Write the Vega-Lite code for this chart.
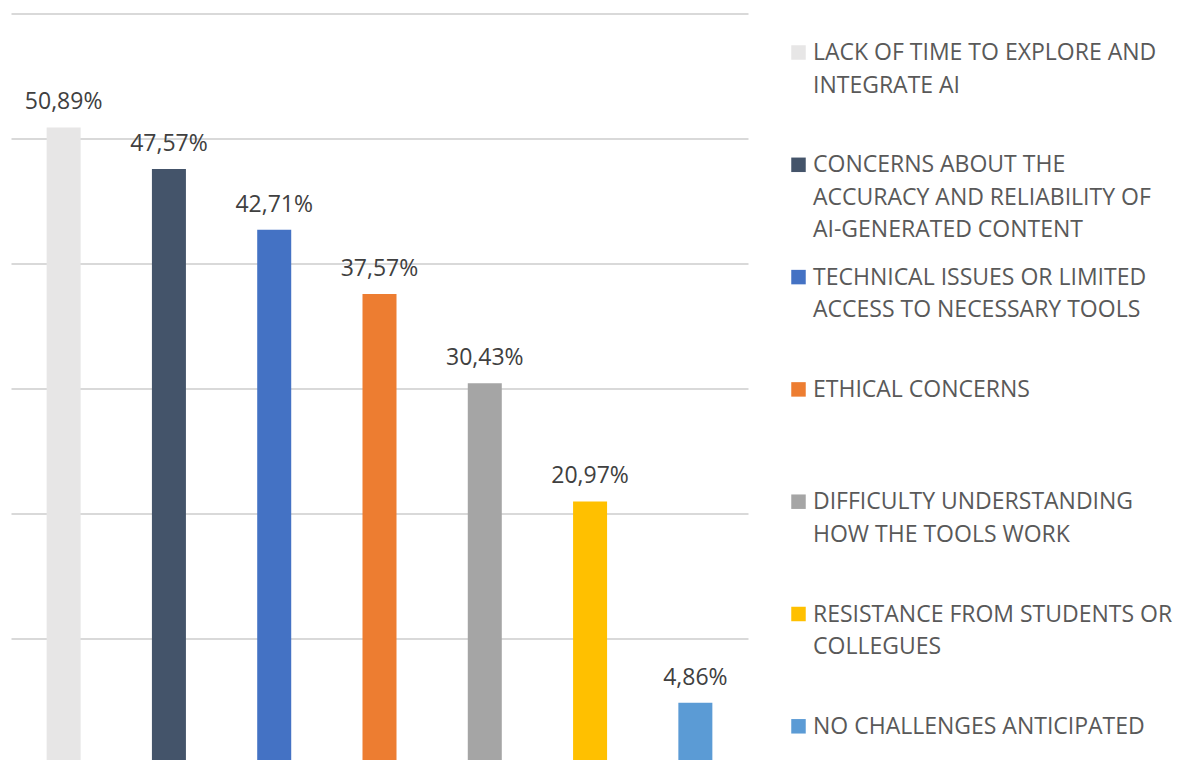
{
  "$schema": "https://vega.github.io/schema/vega-lite/v6.json",
  "width": 737,
  "height": 750,
  "autosize": {"type": "none"},
  "padding": {"left": 11, "top": 13.5, "right": 431, "bottom": 0},
  "background": "#ffffff",
  "config": {
    "view": {"stroke": null},
    "font": "Open Sans",
    "locale": {"number": {"decimal": ",", "thousands": ".", "grouping": [3], "currency": ["", " €"]}}
  },
  "data": {
    "values": [
      {"challenge": "LACK OF TIME TO EXPLORE AND|INTEGRATE AI", "share": 0.5089},
      {"challenge": "CONCERNS ABOUT THE|ACCURACY AND RELIABILITY OF|AI-GENERATED CONTENT", "share": 0.4757},
      {"challenge": "TECHNICAL ISSUES OR LIMITED|ACCESS TO NECESSARY TOOLS", "share": 0.4271},
      {"challenge": "ETHICAL CONCERNS", "share": 0.3757},
      {"challenge": "DIFFICULTY UNDERSTANDING|HOW THE TOOLS WORK", "share": 0.3043},
      {"challenge": "RESISTANCE FROM STUDENTS OR|COLLEGUES", "share": 0.2097},
      {"challenge": "NO CHALLENGES ANTICIPATED", "share": 0.0486}
    ]
  },
  "encoding": {
    "x": {
      "field": "challenge",
      "type": "nominal",
      "sort": null,
      "axis": null,
      "scale": {"paddingInner": 0.677, "paddingOuter": 0.3385}
    },
    "y": {
      "field": "share",
      "type": "quantitative",
      "scale": {"domain": [0, 0.6], "nice": false, "zero": true},
      "axis": {
        "values": [0, 0.1, 0.2, 0.3, 0.4, 0.5, 0.6],
        "grid": true,
        "labels": false,
        "ticks": false,
        "domain": false,
        "title": null,
        "gridColor": "#D9D9D9",
        "gridWidth": 1.8
      }
    }
  },
  "layer": [
    {
      "mark": {"type": "bar"},
      "encoding": {
        "color": {
          "field": "challenge",
          "type": "nominal",
          "sort": null,
          "scale": {
            "domain": [
              "LACK OF TIME TO EXPLORE AND|INTEGRATE AI",
              "CONCERNS ABOUT THE|ACCURACY AND RELIABILITY OF|AI-GENERATED CONTENT",
              "TECHNICAL ISSUES OR LIMITED|ACCESS TO NECESSARY TOOLS",
              "ETHICAL CONCERNS",
              "DIFFICULTY UNDERSTANDING|HOW THE TOOLS WORK",
              "RESISTANCE FROM STUDENTS OR|COLLEGUES",
              "NO CHALLENGES ANTICIPATED"
            ],
            "range": ["#E7E6E6", "#44546A", "#4472C4", "#ED7D31", "#A5A5A5", "#FFC000", "#5B9BD5"]
          },
          "legend": {
            "title": null,
            "orient": "none",
            "legendX": 776,
            "legendY": 29,
            "symbolType": "square",
            "symbolSize": 210,
            "symbolStrokeWidth": 0,
            "symbolOpacity": 1,
            "symbolOffset": 0,
            "labelFont": "Open Sans",
            "labelFontSize": 23,
            "labelColor": "#595959",
            "labelLimit": 0,
            "labelOffset": 3,
            "labelBaseline": "alphabetic",
            "labelExpr": "split(datum.label, '|')",
            "gridAlign": "all",
            "rowPadding": 23.3,
            "padding": 0,
            "encode": {
              "symbols": {"update": {"y": {"value": 10}, "opacity": {"value": 1}}},
              "labels": {"update": {"y": {"value": 17.5}, "lineHeight": {"value": 32.5}, "opacity": {"value": 1}}}
            }
          }
        }
      }
    },
    {
      "mark": {"type": "text", "baseline": "alphabetic", "dy": -18, "fontSize": 23, "color": "#404040", "font": "Open Sans"},
      "encoding": {
        "text": {"field": "share", "type": "quantitative", "format": ".2%"}
      }
    }
  ]
}
